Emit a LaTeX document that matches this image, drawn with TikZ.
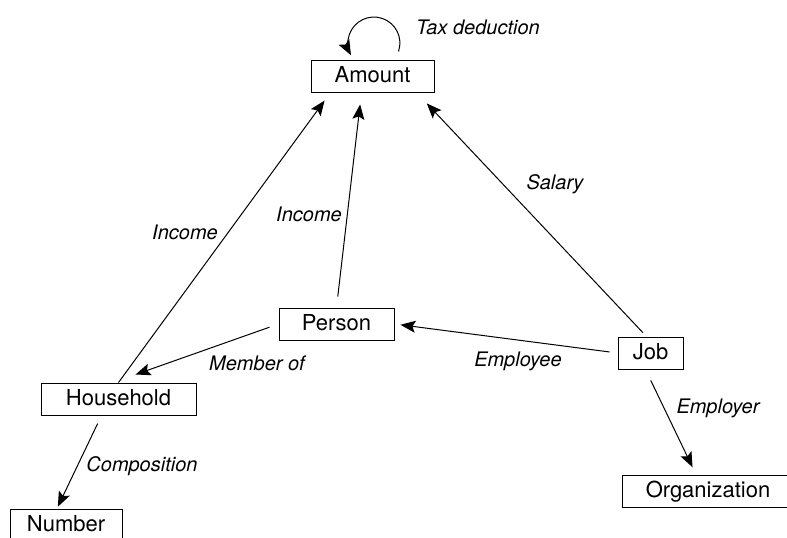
\documentclass[tikz,border=0pt]{standalone}
\usepackage{fontspec}
\setmainfont{TeX Gyre Heros}
\usetikzlibrary{arrows.meta}
\begin{document}
\begin{tikzpicture}[x=1pt,y=-1pt,
  box/.style={draw,line width=1pt,inner sep=0pt,minimum height=32pt,
    font=\fontsize{22}{26}\selectfont,text height=16pt,text depth=4pt},
  lbl/.style={font=\fontsize{20}{24}\selectfont\itshape,inner sep=0pt},
  arr/.style={line width=1pt,-{Stealth[length=15pt,width=12pt,inset=3pt]}}]
\useasboundingbox (0,0) rectangle (787,538);
\clip (0,0) rectangle (787,538);
% nodes
\node[box,minimum width=123pt] (amount) at (372.5,76) {Amount};
\node[box,minimum width=115pt] (person) at (336.5,324) {Person};
\node[box,minimum width=155pt] (hh) at (118.5,399) {Household};
\node[box,minimum width=112pt] (number) at (66,525) {Number};
\node[box,minimum width=65pt] (job) at (650.5,353) {Job};
\node[box,minimum width=172pt] (org) at (708,491) {Organization};
% connectors
\draw[arr] ([shift={(26,-8)}]amount.north) arc[start angle=19,end angle=-208,radius=26];
\draw[arr,shorten >=10pt] (hh.north) -- ([xshift=-42pt]amount.south);
\draw[arr,shorten <=11pt,shorten >=12pt] (person.north) -- ([xshift=-11pt]amount.south);
\draw[arr,shorten <=5pt,shorten >=15pt] ([xshift=-4pt]job.north) -- ([xshift=44pt]amount.south);
\draw[arr,shorten <=9.5pt,shorten >=24pt] (person.west) -- ([xshift=-5.5pt]hh.north);
\draw[arr,shorten <=8pt,shorten >=6pt] (job.west) -- (person.east);
\draw[arr,shorten <=9pt,shorten >=2pt] ([xshift=-17pt]hh.south) -- ([xshift=-9pt]number.north);
\draw[arr,shorten <=12pt,shorten >=8pt] ([xshift=-5pt]job.south) -- ([xshift=-12pt]org.north);
% labels
\node[lbl] (ltax) at (478,27) {Tax deduction};
\node[lbl] (linc1) at (185,232) {Income};
\node[lbl] (linc2) at (309,214) {Income};
\node[lbl] (lsal) at (555,184) {Salary};
\node[lbl] (lmem) at (257,363) {Member of};
\node[lbl] (lemp) at (518,361) {Employee};
\node[lbl] (lcomp) at (142,466) {Composition};
\node[lbl] (lempl) at (718,408) {Employer};
\end{tikzpicture}
\end{document}
